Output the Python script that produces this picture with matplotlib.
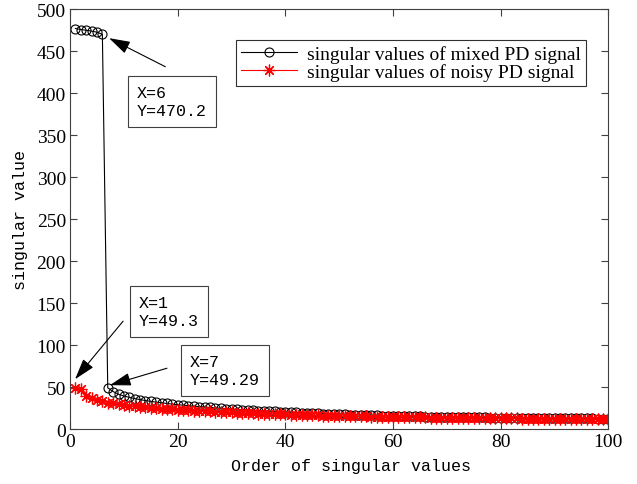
import matplotlib
matplotlib.use("Agg")
import matplotlib.pyplot as plt

# singular values, orders 1..100
order = list(range(1, 101))

mixed_sv = [
    477.0, 475.8, 474.9, 473.9, 472.6, 470.2, 49.29, 44.8, 41.6, 39.5,
    37.9, 36.5, 35.2, 34.1, 33.1, 32.2, 31.4, 30.6, 29.9, 29.2,
    28.6, 28.0, 27.4, 26.9, 26.4, 25.9, 25.4, 25.0, 24.5, 24.1,
    23.7, 23.3, 22.9, 22.5, 22.2, 21.8, 21.5, 21.1, 20.8, 20.5,
    20.2, 19.9, 19.6, 19.3, 19.1, 18.8, 18.5, 18.3, 18.0, 17.8,
    17.6, 17.4, 17.2, 17.0, 16.8, 16.6, 16.4, 16.2, 16.1, 15.9,
    15.8, 15.6, 15.5, 15.4, 15.2, 15.1, 15.0, 14.9, 14.8, 14.7,
    14.6, 14.5, 14.4, 14.3, 14.2, 14.1, 14.0, 13.9, 13.9, 13.8,
    13.7, 13.6, 13.6, 13.5, 13.4, 13.4, 13.3, 13.2, 13.2, 13.1,
    13.1, 13.0, 13.0, 12.9, 12.9, 12.8, 12.8, 12.7, 12.7, 12.6,
]

noisy_sv = [
    49.3, 47.5, 40.1, 36.8, 34.6, 33.0, 31.7, 30.6, 29.7, 28.9,
    28.1, 27.4, 26.8, 26.2, 25.6, 25.1, 24.6, 24.1, 23.7, 23.3,
    22.9, 22.5, 22.1, 21.8, 21.4, 21.1, 20.8, 20.5, 20.2, 19.9,
    19.6, 19.4, 19.1, 18.9, 18.6, 18.4, 18.2, 18.0, 17.8, 17.6,
    17.4, 17.2, 17.0, 16.8, 16.7, 16.5, 16.3, 16.2, 16.0, 15.9,
    15.7, 15.6, 15.5, 15.3, 15.2, 15.1, 15.0, 14.9, 14.7, 14.6,
    14.5, 14.4, 14.3, 14.2, 14.1, 14.0, 13.9, 13.9, 13.8, 13.7,
    13.6, 13.5, 13.5, 13.4, 13.3, 13.2, 13.2, 13.1, 13.0, 13.0,
    12.9, 12.9, 12.8, 12.7, 12.7, 12.6, 12.6, 12.5, 12.5, 12.4,
    12.4, 12.3, 12.3, 12.2, 12.2, 12.1, 12.1, 12.0, 12.0, 11.9,
]

# data tips: (order, series)
tips = [(6, mixed_sv), (1, noisy_sv), (7, mixed_sv)]

serif = "Liberation Serif"
mono = "Liberation Mono"

fig = plt.figure(figsize=(6.37, 4.85), dpi=100)
ax = fig.add_axes([0.110, 0.113, 0.845, 0.866])

ax.plot(order, mixed_sv, color="black", lw=0.8, marker="o", ms=6.5,
        mfc="none", mec="black", mew=0.8,
        label="singular values of mixed PD signal")
ax.plot(order, noisy_sv, color="red", lw=0.8, marker=(8, 2, 0), ms=8.5,
        mew=0.9, label="singular values of noisy PD signal")

ax.set_xlim(0, 100)
ax.set_ylim(0, 500)
ax.set_xticks(range(0, 101, 20))
ax.set_yticks(range(0, 501, 50))
ax.tick_params(direction="in", top=True, right=True, length=5,
               width=0.8, color="#404040", labelsize=14, pad=3)
for lab in ax.get_xticklabels() + ax.get_yticklabels():
    lab.set_family(serif)
for sp in ax.spines.values():
    sp.set_color("#404040")
    sp.set_linewidth(0.8)

ax.set_xlabel("Order of singular values", family=mono, fontsize=12)
ax.set_ylabel("singular value", family=mono, fontsize=12)
ax.xaxis.set_label_coords(0.522, -0.068)
ax.yaxis.set_label_coords(-0.079, 0.5)

leg = ax.legend(loc="upper right", bbox_to_anchor=(0.958, 0.926),
                prop={"family": serif, "size": 14}, handlelength=2.9,
                fancybox=False, framealpha=1, edgecolor="#303030",
                borderpad=0.25, labelspacing=0.0, handletextpad=0.5,
                borderaxespad=0)
leg.get_frame().set_linewidth(0.8)

# data tip boxes with arrows pointing to the marked points
tip_text_pos = [(12.4, 390.5), (12.8, 140.0), (22.3, 70.2)]
tip_tail = [(17.7, 431.5), (9.85, 128.6), (18.0, 72.6)]
tip_head = [(7.25, 465.5), (0.93, 59.5), (7.4, 52.4)]

for (k, series), (tx, ty), tail, head in zip(tips, tip_text_pos, tip_tail, tip_head):
    val = series[k - 1]
    ax.text(tx, ty, "X=%d\nY=%s" % (k, ("%.2f" % val).rstrip("0").rstrip(".")),
            family=mono, fontsize=12, ha="left", va="center", linespacing=1.25,
            bbox=dict(boxstyle="square,pad=0.55", fc="white", ec="#404040", lw=0.8))
    ax.annotate("", xy=head, xytext=tail,
                arrowprops=dict(arrowstyle="-|>,head_length=1.3,head_width=0.4",
                                color="black", lw=0.8, shrinkA=0, shrinkB=0))

fig.savefig("out.png", dpi=100)
